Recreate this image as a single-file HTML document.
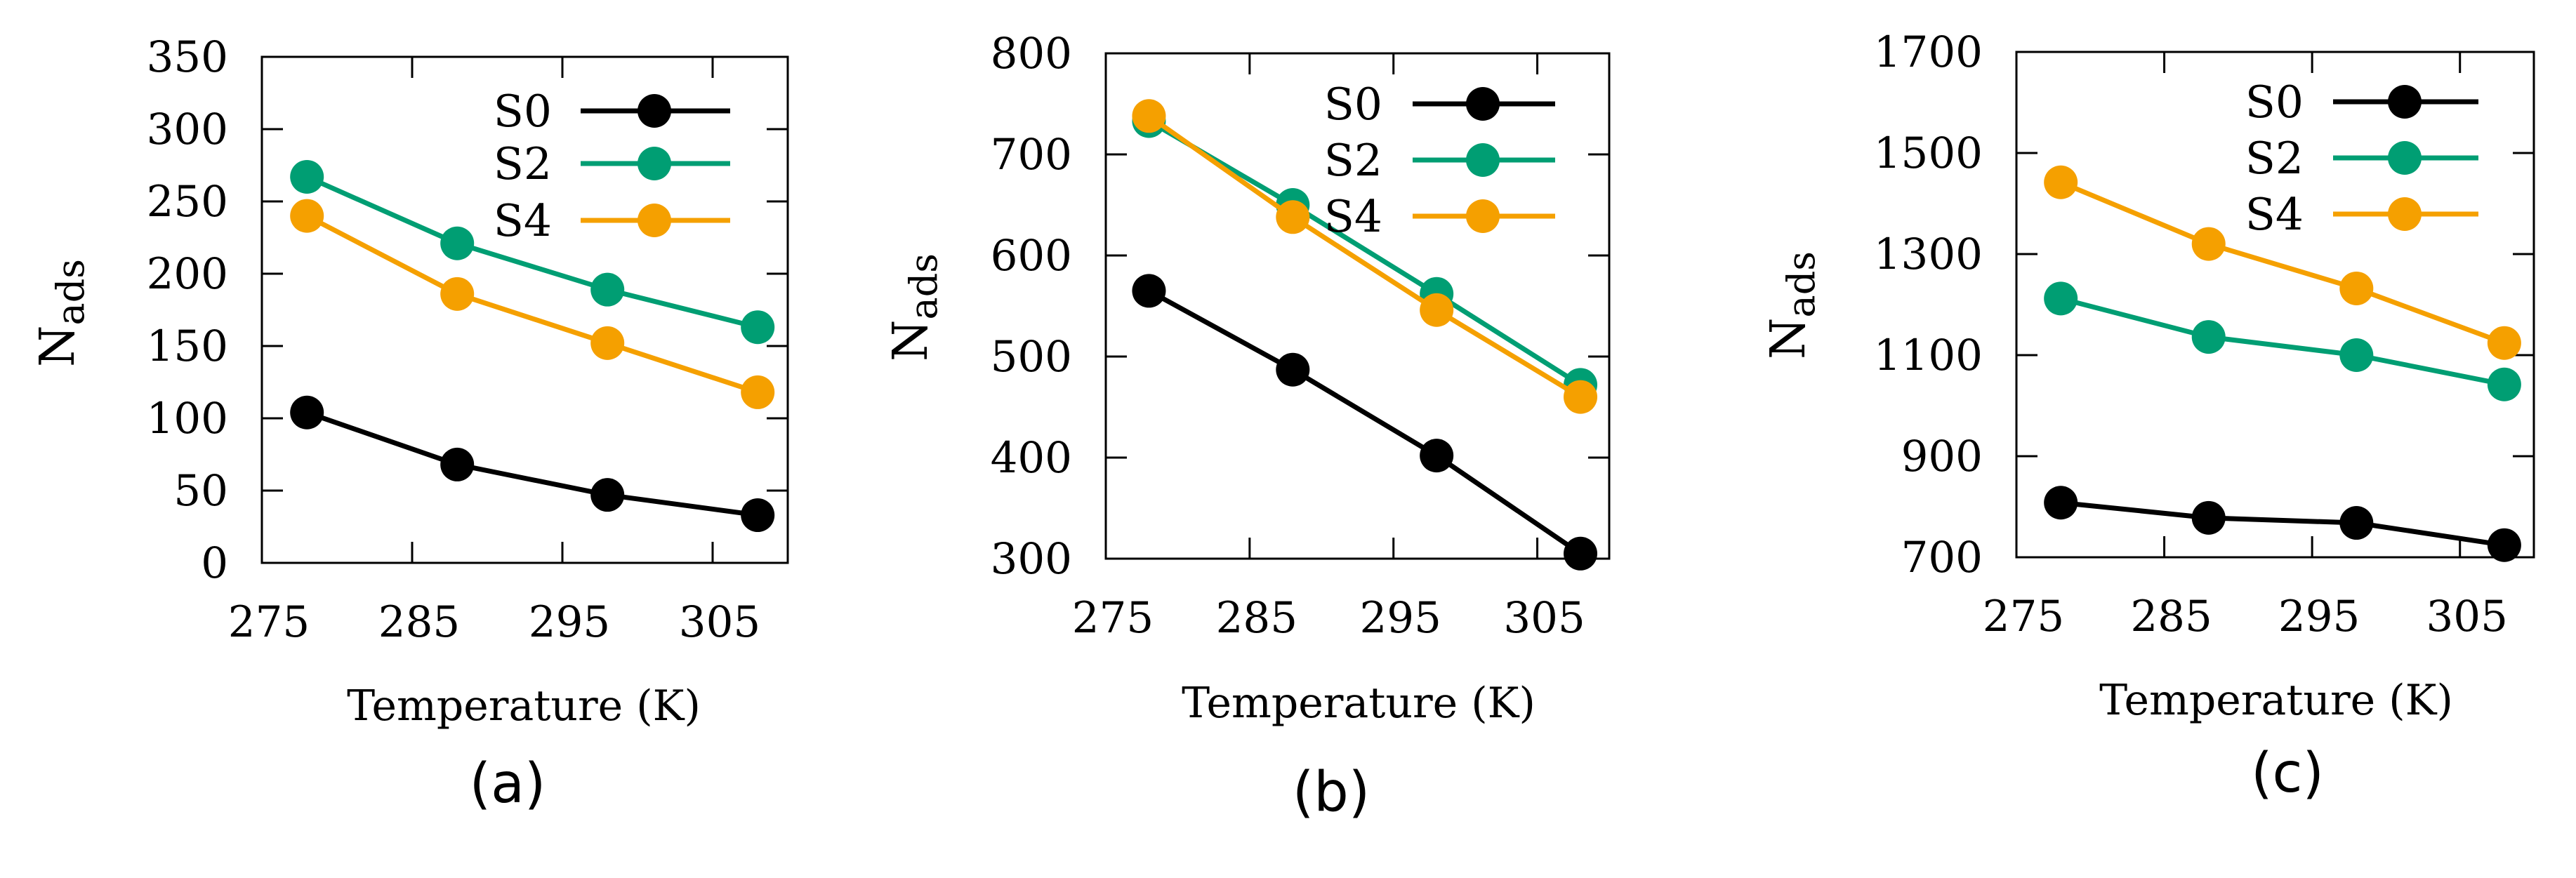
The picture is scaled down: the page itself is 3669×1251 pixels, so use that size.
<!DOCTYPE html>
<html><head><meta charset="utf-8"><style>
html,body{margin:0;padding:0;background:#fff;}
svg{display:block;}
text{font-family:"DejaVu Serif","Liberation Serif",serif;fill:#000;}
.cap{font-family:"DejaVu Sans","Liberation Sans",sans-serif;}
</style></head><body>
<svg id="chart" width="3669" height="1251" viewBox="0 0 3669 1251" xmlns="http://www.w3.org/2000/svg"></svg>
<script>
const temps = [278, 288, 298, 308];
const xTicks = [275, 285, 295, 305];
const seriesNames = ["S0", "S2", "S4"];
const aS0 = [104, 68, 47, 33];
const aS2 = [267, 221, 189, 163];
const aS4 = [240, 186, 152, 118];
const bS0 = [565, 487, 402, 305];
const bS2 = [733, 650, 562, 472];
const bS4 = [738, 638, 546, 460];
const cS0 = [808, 778, 768, 724];
const cS2 = [1212, 1136, 1100, 1042];
const cS4 = [1442, 1320, 1232, 1124];
const aYTicks = [0, 50, 100, 150, 200, 250, 300, 350];
const bYTicks = [300, 400, 500, 600, 700, 800];
const cYTicks = [700, 900, 1100, 1300, 1500, 1700];

const colors = ["#000000", "#009E73", "#F5A000"];
const panels = [
  {id:"a", L:373, R:1122, T:81, B:802, ymin:0, ymax:350, yt:aYTicks, data:[aS0,aS2,aS4],
   ylx:81, yly:446, xtx:746, xty:1004, capx:723, capy:1115,
   legTextR:786, legL:827, legR:1040, legM:932, legY:[158,233,314]},
  {id:"b", L:1575, R:2292, T:76, B:796, ymin:300, ymax:800, yt:bYTicks, data:[bS0,bS2,bS4],
   ylx:1296, yly:438, xtx:1935, xty:1000, capx:1896, capy:1127,
   legTextR:1969, legL:2012, legR:2215, legM:2112, legY:[148,228,308]},
  {id:"c", L:2872, R:3609, T:74, B:794, ymin:700, ymax:1700, yt:cYTicks, data:[cS0,cS2,cS4],
   ylx:2546, yly:435, xtx:3242, xty:996, capx:3258, capy:1100,
   legTextR:3281, legL:3323, legR:3530, legM:3425, legY:[145,225,305]}
];
const NS = "http://www.w3.org/2000/svg";
const svg = document.getElementById("chart");
function mk(tag, attrs, parent, txt){
  const e = document.createElementNS(NS, tag);
  for (const k in attrs) e.setAttribute(k, attrs[k]);
  if (txt !== undefined) e.textContent = txt;
  (parent || svg).appendChild(e);
  return e;
}
panels.forEach(p => {
  const g = mk("g", {});
  
  
  const xs = v => p.L + (v - 275) / 35 * (p.R - p.L);
  const ys = v => p.B - (v - p.ymin) / (p.ymax - p.ymin) * (p.B - p.T);
  p.yt.forEach(v => {
    const y = ys(v);
    const t1 = mk("line", {x1:p.L, x2:p.L+30, y1:y, y2:y, stroke:"#000", "stroke-width":3}, g);
    
    
    mk("line", {x1:p.R-30, x2:p.R, y1:y, y2:y, stroke:"#000", "stroke-width":3}, g);
    const tl = mk("text", {x:p.L-48, y:y+21, "text-anchor":"end", "font-size":61}, g, String(v));
    
    
  });
  xTicks.forEach(v => {
    const x = xs(v);
    const t1 = mk("line", {x1:x, x2:x, y1:p.B, y2:p.B-30, stroke:"#000", "stroke-width":3}, g);
    
    
    mk("line", {x1:x, x2:x, y1:p.T, y2:p.T+30, stroke:"#000", "stroke-width":3}, g);
    const tl = mk("text", {x:x+10, y:p.B+105, "text-anchor":"middle", "font-size":61}, g, String(v));
    
    
  });
  const box = mk("rect", {x:p.L, y:p.T, width:p.R-p.L, height:p.B-p.T, fill:"none", stroke:"#000", "stroke-width":3}, g);
  
  
  p.data.forEach((arr, si) => {
    const sg = mk("g", {}, g);
    
    
    const pts = arr.map((v,i) => xs(temps[i]) + "," + ys(v)).join(" ");
    const pl = mk("polyline", {points:pts, fill:"none", stroke:colors[si], "stroke-width":7}, sg);
    
    
    arr.forEach((v,i) => {
      const c = mk("circle", {cx:xs(temps[i]), cy:ys(v), r:24, fill:colors[si]}, sg);
      
      
    });
  });
  seriesNames.forEach((n, si) => {
    const y = p.legY[si];
    const lg = mk("g", {}, g);
    
    
    mk("text", {x:p.legTextR, y:y+22, "text-anchor":"end", "font-size":63}, lg, n);
    mk("line", {x1:p.legL, x2:p.legR, y1:y, y2:y, stroke:colors[si], "stroke-width":7}, lg);
    mk("circle", {cx:p.legM, cy:y, r:24, fill:colors[si]}, lg);
  });
  const yl = mk("text", {transform:`translate(${p.ylx+24},${p.yly}) rotate(-90)`, "text-anchor":"middle", "font-size":68}, g);
  
  
  mk("tspan", {}, yl, "N");
  mk("tspan", {dy:14, "font-size":54}, yl, "ads");
  const xt = mk("text", {x:p.xtx, y:p.xty+22, "text-anchor":"middle", "font-size":60}, g, "Temperature (K)");
  
  
  const cap = mk("text", {x:p.capx, y:p.capy+28, "text-anchor":"middle", "font-size":78, class:"cap"}, g, "(" + p.id + ")");
  
  
});
</script>
</body></html>
